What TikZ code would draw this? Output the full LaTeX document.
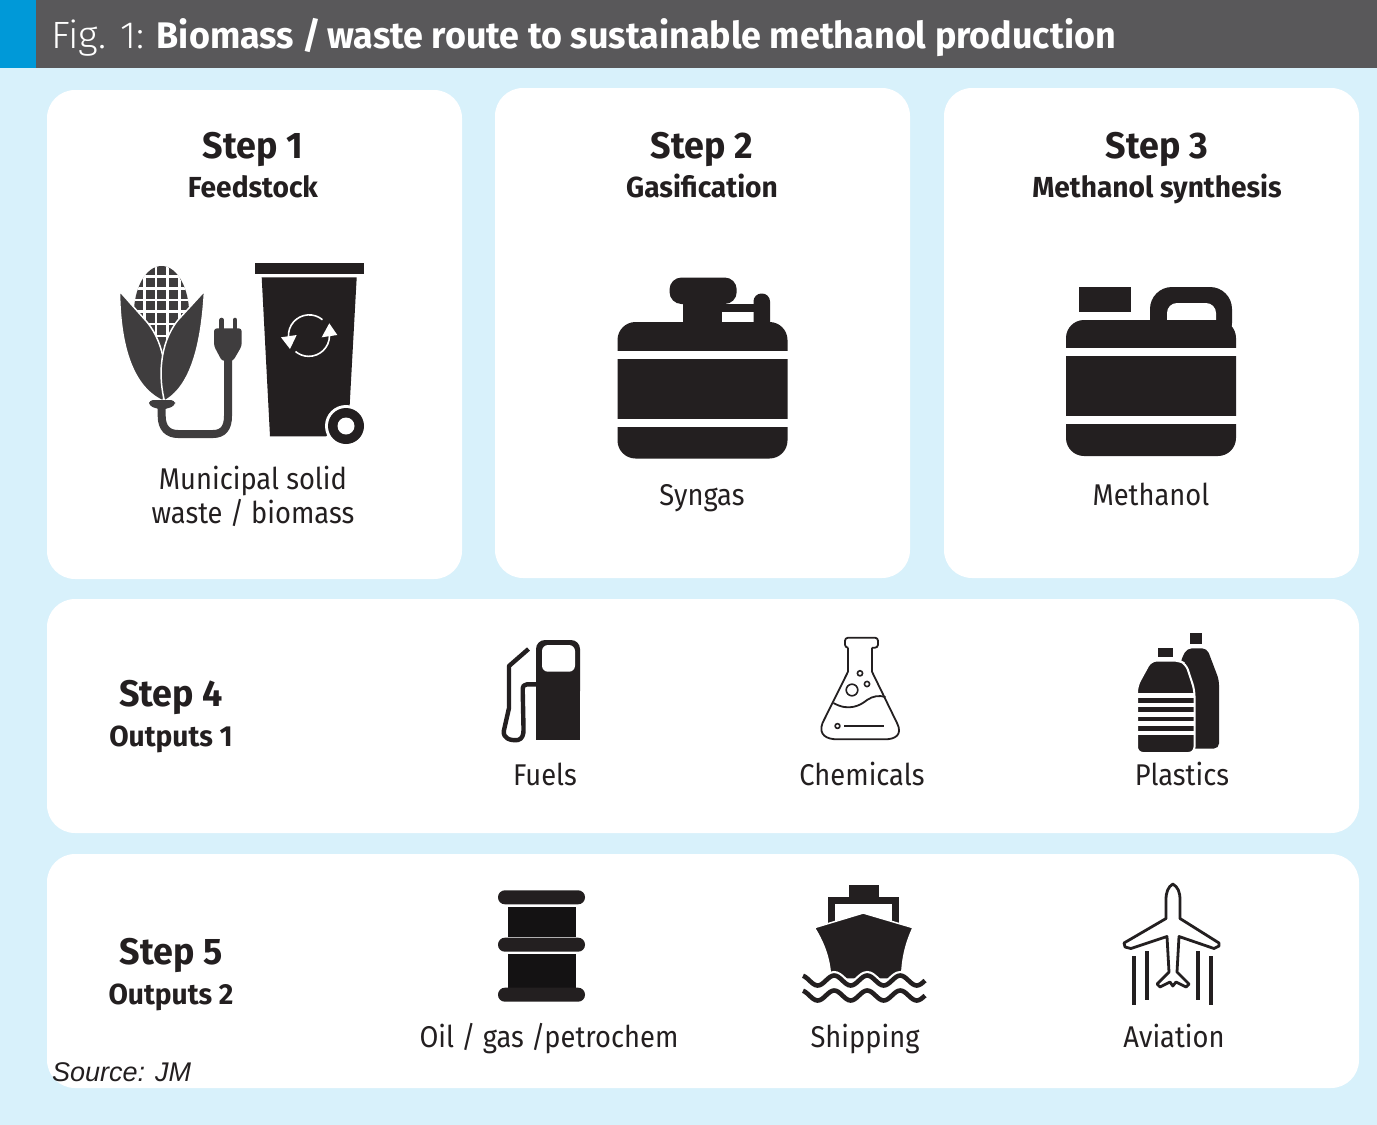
\documentclass[tikz,border=0pt]{standalone}
\usepackage{fontspec}
\setmainfont{Fira Sans}[FakeStretch=0.91]
\newfontfamily\boldcond[FakeStretch=0.97]{Fira Sans Bold}
\newfontfamily\figfont[FakeStretch=1.02]{Fira Sans Light}
\newfontfamily\srcfont{Liberation Sans}
\definecolor{skybg}{HTML}{D8F1FB}
\definecolor{barblue}{HTML}{0099D8}
\definecolor{bargrey}{HTML}{59585A}
\definecolor{ink}{HTML}{231F20}
\definecolor{drumink}{HTML}{141213}
\definecolor{cornink}{HTML}{3F3D3E}
\tikzset{
  panel/.style={fill=white,rounded corners=28pt,inner sep=0pt},
  steptitle/.style={anchor=base,font=\boldcond\fontsize{37}{40}\selectfont,text=ink,inner sep=0pt},
  stepsub/.style={anchor=base,font=\boldcond\fontsize{29}{32}\selectfont,text=ink,inner sep=0pt},
  iconlabel/.style={anchor=base,font=\fontsize{30}{34}\selectfont,text=ink,align=center,inner sep=0pt},
  whiteband/.style={fill=white,draw=none},
  inkline/.style={draw=ink,line join=round}
}
\begin{document}
\begin{tikzpicture}[x=1pt,y=-1pt]
  \useasboundingbox (0,0) rectangle (1377,1125);
  \fill[skybg] (0,0) rectangle (1377,1125);
  \fill[bargrey] (0,0) rectangle (1377,68);
  \fill[barblue] (0,0) rectangle (36,68);
  \node[anchor=base west,inner sep=0pt,text=white,font=\fontsize{37}{40}\selectfont] (title) at (51,48)
    {{\figfont\fontsize{38}{40}\selectfont Fig. 1:} {\boldcond Biomass /\,waste route to sustainable methanol production}};

  \node[panel,minimum width=415pt,minimum height=489pt] (panel1) at (254.5,334.5) {};
  \node[panel,minimum width=415pt,minimum height=490pt] (panel2) at (702.5,333) {};
  \node[panel,minimum width=415pt,minimum height=490pt] (panel3) at (1151.5,333) {};
  \node[panel,minimum width=1312pt,minimum height=234pt] (panel4) at (703,716) {};
  \node[panel,minimum width=1312pt,minimum height=234pt] (panel5) at (703,971) {};

  \draw
    (253,158) node[steptitle] (step1){Step 1}
    (253,197) node[stepsub] (sub1){Feedstock}
    (702,158) node[steptitle] (step2){Step 2}
    (702,197) node[stepsub] (sub2){Gasification}
    (1157,158) node[steptitle] (step3){Step 3}
    (1157,197) node[stepsub] (sub3){Methanol synthesis}
    (171,706) node[steptitle] (step4){Step 4}
    (171,746) node[stepsub] (sub4){Outputs 1}
    (171,964) node[steptitle] (step5){Step 5}
    (171,1004) node[stepsub] (sub5){Outputs 2};
  \draw
    (253,489) node[iconlabel] (wastea){Municipal solid}
    (253,523) node[iconlabel] (wasteb){waste / biomass}
    (702,505) node[iconlabel] (syngas){Syngas}
    (1151,505) node[iconlabel] (methanol){Methanol}
    (545,785) node[iconlabel] (fuels){Fuels}
    (862,785) node[iconlabel] (chemicals){Chemicals}
    (1182,785) node[iconlabel] (plastics){Plastics}
    (549,1047) node[iconlabel] (oil){Oil / gas /petrochem}
    (865,1047) node[iconlabel] (shipping){Shipping}
    (1174,1047) node[iconlabel] (aviation){Aviation};
  \node[anchor=west,inner sep=0pt,text=ink,font=\srcfont\itshape\fontsize{27}{30}\selectfont] (source) at (52,1072) {Source: JM};

  % corn and plug
  \begin{scope}
    \clip (161.7,266) .. controls (178,266) and (189,290) .. (189,312) .. controls (189,335) and (172,352) .. (161.7,358)
      .. controls (151,352) and (134,335) .. (134,312) .. controls (134,290) and (145,266) .. (161.7,266) -- cycle;
    \fill[cornink] (130,262) rectangle (194,360);
    \foreach \gx in {144.3,156,167.7,179.3}
      \fill[white] (\gx-1.4,262) rectangle (\gx+1.4,360);
    \foreach \gy in {276.7,288.3,300,311.7,324,336}
      \fill[white] (130,\gy-1.4) rectangle (194,\gy+1.4);
  \end{scope}
  \fill[cornink,draw=white,line width=1.5pt] (119.5,291) .. controls (120,335) and (128,385) .. (163,401)
    .. controls (168,380) and (166,345) .. (147,322) -- cycle;
  \fill[cornink,draw=white,line width=1.5pt] (204.5,291) .. controls (202,335) and (194,385) .. (164.5,401)
    .. controls (159,380) and (158,345) .. (178,320) -- cycle;
  \fill[cornink,rounded corners=4pt] (149,400) -- (175,400) -- (175,406) -- (162,410) -- (149,406) -- cycle;
  \draw[cornink,line width=8pt] (161.7,406) -- (161.7,416) .. controls (161.7,428) and (168,434) .. (178,434)
    -- (213,434) .. controls (223,434) and (228,428) .. (228,416) -- (228,358);
  \fill[cornink,rounded corners=3pt] (214,328.3) -- (241.7,328.3) -- (241.7,346) -- (233,361) -- (222,361) -- (214,346) -- cycle;
  \draw[cornink,line width=4.6pt,line cap=round] (221.6,320) -- (221.6,330) (235,320) -- (235,330);

  % bin
  \fill[ink] (255,263.3) rectangle (364,274);
  \fill[ink] (261.7,277.3) -- (356.7,277.3) -- (349.3,412) -- (326,436.3) -- (270,436.3) -- cycle;
  \fill[white] (346,426) circle[radius=21pt];
  \fill[ink] (346,426) circle[radius=18pt];
  \fill[white] (346,426) circle[radius=8.5pt];
  \draw[white,line width=1.6pt] (288.5,337) arc[start angle=184,end angle=50,radius=20.7pt];
  \draw[white,line width=1.6pt] (329.5,336) arc[start angle=-1,end angle=-130,radius=20.7pt];
  \fill[white] (329.3,323.3) -- (337.3,335) -- (321.7,337.3) -- cycle;
  \fill[white] (281,337.3) -- (296.7,335) -- (290,349) -- cycle;

  % gas cylinder
  \fill[ink,rounded corners=18pt] (617.5,322) rectangle (787.5,458.5);
  \fill[ink] (683.3,295) rectangle (721.7,330);
  \fill[ink,rounded corners=12pt] (669.5,277.5) rectangle (736.7,304);
  \fill[ink] (721.7,304) rectangle (757,312);
  \fill[ink,rounded corners=7.9pt] (753.5,293.5) rectangle (770,340);
  \fill[whiteband] (617,350.7) rectangle (788,359);
  \fill[whiteband] (617,419) rectangle (788,426.7);

  % jerry can
  \fill[ink] (1079,287) rectangle (1131,312);
  \fill[ink,rounded corners=22pt] (1150,287) rectangle (1232,345);
  \fill[white,rounded corners=10pt] (1167,303) rectangle (1216,335);
  \fill[ink,rounded corners=18pt] (1066,320) rectangle (1236,456);
  \fill[whiteband] (1065,347.7) rectangle (1237,356);
  \fill[whiteband] (1065,416) rectangle (1237,424);

  % fuel pump
  \fill[ink,rounded corners=9pt] (536,640) rectangle (580,700);
  \fill[ink] (536,670) rectangle (580,739.5);
  \fill[white,rounded corners=6pt] (542,645) rectangle (575,671.7);
  \draw[inkline,line width=4.4pt] (528.5,649) -- (509,666) -- (509,708) -- (503.8,731) .. controls (503,738) and (510,741) .. (518,740)
    .. controls (522,739) and (524,735) .. (523.5,728) -- (522.7,690) .. controls (522.7,686) and (524,684.3) .. (527,684.3) -- (536,684.3);

  % flask
  \draw[inkline,line width=1.8pt,rounded corners=3pt] (848,647.7) -- (845,647.7) -- (845,637.7) -- (878,637.7) -- (878,647.7) -- (872,647.7);
  \draw[inkline,line width=1.8pt] (848,647.7) -- (848,671.7) -- (822.5,723) .. controls (818,735) and (827,739.3) .. (837,739.3)
    -- (885,739.3) .. controls (895,739.3) and (903,735) .. (897,723) -- (872,671.7) -- (872,647.7);
  \draw[inkline,line width=1.8pt] (833.5,703) .. controls (849,712) and (861,705) .. (867,700) .. controls (873,696) and (879,695) .. (885.5,697);
  \draw[inkline,line width=1.6pt] (852,690) circle[radius=5.8pt] (867,684) circle[radius=2.6pt] (860,673.3) circle[radius=2.6pt] (837.5,726) circle[radius=2.4pt];
  \draw[inkline,line width=1.8pt] (844,725.8) -- (884,725.8);

  % bottles
  \fill[ink] (1190,633) rectangle (1202,644);
  \fill[ink,rounded corners=5pt] (1181,660) -- (1187,648.3) -- (1207,648.3) -- (1219,680) -- (1219,748.5) -- (1170,748.5) -- cycle;
  \fill[ink] (1157.5,648.3) rectangle (1173,657.3);
  \fill[ink,draw=white,line width=2pt,rounded corners=6pt] (1151,660.5) -- (1179,660.5) -- (1186,664) -- (1194.5,690) -- (1194.5,753) -- (1137,753) -- (1137,686) -- cycle;
  \foreach \sy in {693,702.7,712,721.3,730.7}
    \fill[whiteband] (1136,\sy) rectangle (1195,\sy+4.7);

  % barrel
  \fill[drumink] (507.7,907) rectangle (576,937.3);
  \fill[drumink] (507.7,954) rectangle (576,987.7);
  \foreach \hy in {890.3,937.7,987.7}
    \fill[ink,rounded corners=6.9pt] (498,\hy) rectangle (585,\hy+14);

  % ship
  \fill[ink] (849.3,885) rectangle (879,898);
  \draw[ink,line width=6.6pt] (831.6,935) -- (831.6,900.5) -- (895.7,900.5) -- (895.7,935);
  \fill[ink,draw=white,line width=1.5pt,line join=round] (863.2,913) -- (913,927.7) .. controls (905,945) and (902,960) .. (901.5,979) -- (830.7,979)
    .. controls (830,960) and (825,945) .. (814.4,927.7) -- cycle;
  \draw[white,line width=9pt] plot[smooth,domain=803:925,samples=60] (\x,{980.5+5*sin(10.9*(\x-803)-70)});
  \draw[ink,line width=4.6pt] plot[smooth,domain=803:925,samples=60] (\x,{980.5+5*sin(10.9*(\x-803)-70)});
  \draw[ink,line width=4.6pt] plot[smooth,domain=803:925,samples=60] (\x,{995.5+5*sin(10.9*(\x-803)-70)});

  % plane
  \draw[inkline,line width=2.8pt,fill=white] (1172.8,884) .. controls (1168,887) and (1166,892) .. (1166,900) -- (1166,918.5) -- (1124,943) -- (1125,947) -- (1131,948.5) -- (1167,936.5)
    -- (1169,972) -- (1157,984) -- (1160,987) -- (1170,982) -- (1172.8,986) -- (1176,982) -- (1186,987) -- (1189,984) -- (1177,972) -- (1179,936.5)
    -- (1214,948.5) -- (1219,946) -- (1219,943) -- (1180,918.5) -- (1180,900) .. controls (1180,892) and (1178,887) .. (1172.8,884) -- cycle;
  \draw[ink,line width=3.2pt] (1134,956) -- (1134,1005) (1147,951) -- (1147,1000) (1198,951) -- (1198,1000) (1211,956) -- (1211,1005);
\end{tikzpicture}
\end{document}
